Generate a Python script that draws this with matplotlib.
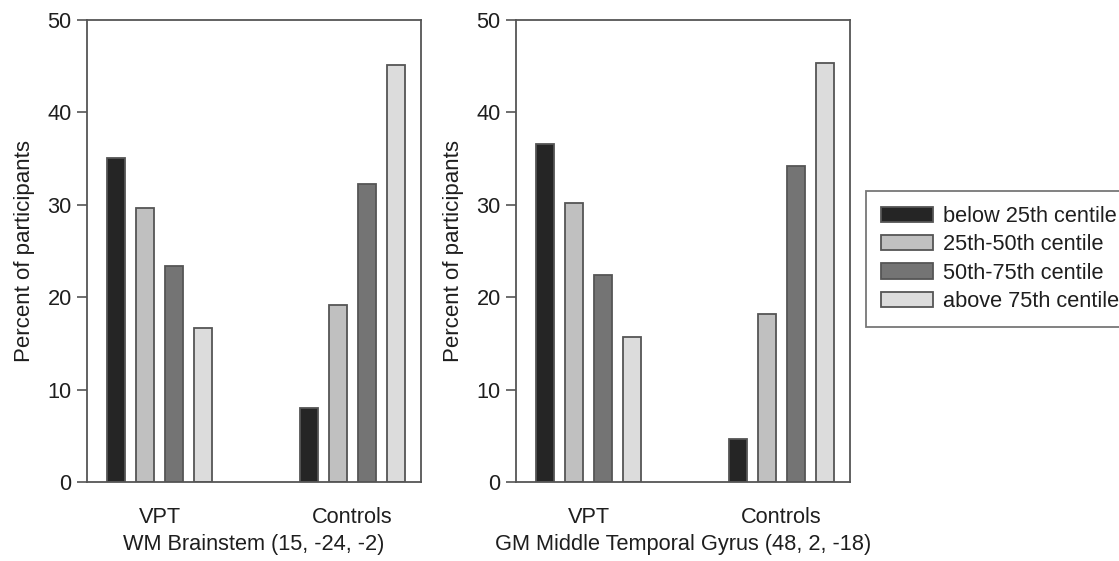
import matplotlib
matplotlib.use("Agg")
import matplotlib.pyplot as plt
import numpy as np

plt.rcParams['font.family'] = ['Liberation Sans', 'DejaVu Sans']

groups = ["VPT", "Controls"]
categories = ["below 25th centile", "25th-50th centile", "50th-75th centile", "above 75th centile"]
colors = ["#252525", "#c0c0c0", "#747474", "#dcdcdc"]

# values[category] = [VPT, Controls]
brainstem = {
    "below 25th centile": [35.1, 8.0],
    "25th-50th centile": [29.7, 19.2],
    "50th-75th centile": [23.4, 32.2],
    "above 75th centile": [16.7, 45.1],
}
temporal = {
    "below 25th centile": [36.6, 4.7],
    "25th-50th centile": [30.2, 18.2],
    "50th-75th centile": [22.4, 34.2],
    "above 75th centile": [15.7, 45.3],
}
titles = ["WM Brainstem (15, -24, -2)", "GM Middle Temporal Gyrus (48, 2, -18)"]
yticks = [0, 10, 20, 30, 40, 50]

W, H = 1119, 561
fig = plt.figure(figsize=(W / 100, H / 100), dpi=100)
ax1 = fig.add_axes([87 / W, 1 - 482 / H, 334 / W, 462 / H])
ax2 = fig.add_axes([516 / W, 1 - 482 / H, 334 / W, 462 / H])

text_col = "#1e1e1e"
edge_col = "#555555"
spacing = 0.1505
width = 0.094
x = np.arange(len(groups))
fs = 15.7

handles = []
for ax, data, title in zip([ax1, ax2], [brainstem, temporal], titles):
    for i, cat in enumerate(categories):
        b = ax.bar(x + (i - 1.5) * spacing, data[cat], width=width,
                   color=colors[i], edgecolor=edge_col, linewidth=1.3, label=cat)
        if ax is ax1:
            handles.append(b)
    ax.set_xlim(-0.378, 1.355)
    ax.set_ylim(0, 50)
    ax.set_yticks(yticks)
    ax.set_xticks(x)
    ax.set_xticklabels(groups, fontsize=fs, color=text_col)
    ax.tick_params(axis='x', length=0, pad=18)
    ax.tick_params(axis='y', length=7, width=1.2, color=edge_col, pad=4, labelsize=fs,
                   labelcolor=text_col)
    for s in ax.spines.values():
        s.set_color(edge_col)
        s.set_linewidth(1.3)
    ax.set_ylabel("Percent of participants", fontsize=16, color=text_col, labelpad=9)
    ax.set_xlabel(title, fontsize=fs, color=text_col, labelpad=4)

leg = fig.legend(handles, categories, loc='upper left',
                 bbox_to_anchor=(866 / W, 1 - 191 / H), fontsize=fs,
                 frameon=True, fancybox=False, handlelength=2.35, handleheight=0.7,
                 handletextpad=0.5, labelspacing=0.33, borderpad=0.7,
                 borderaxespad=0)
leg.get_frame().set_edgecolor(edge_col)
leg.get_frame().set_linewidth(1.3)
for t in leg.get_texts():
    t.set_color(text_col)

fig.savefig("out.png", dpi=100)
